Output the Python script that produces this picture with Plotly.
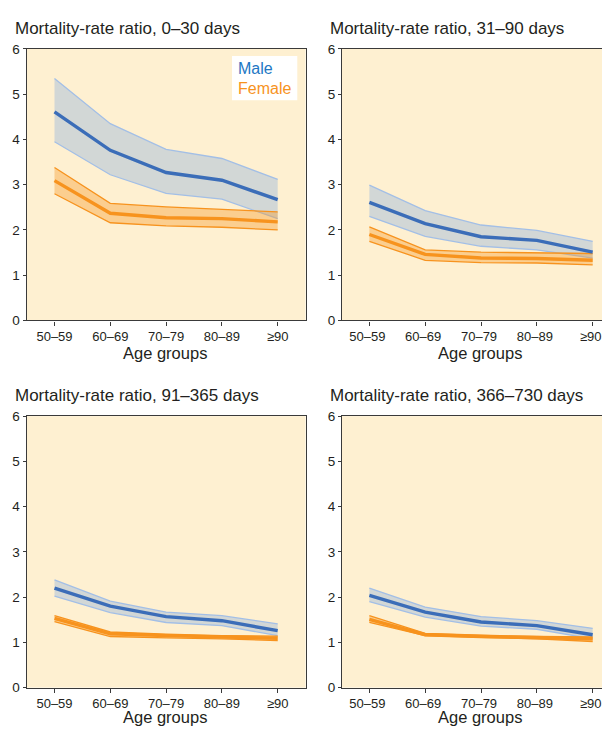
import plotly.graph_objects as go

# ---------------- data ----------------
age_groups = ["50–59", "60–69", "70–79", "80–89", "≥90"]
panel_titles = [
    "Mortality-rate ratio, 0–30 days",
    "Mortality-rate ratio, 31–90 days",
    "Mortality-rate ratio, 91–365 days",
    "Mortality-rate ratio, 366–730 days",
]
y_ticks = [0, 1, 2, 3, 4, 5, 6]

male_mid = [
    [4.61, 3.76, 3.27, 3.10, 2.67],
    [2.61, 2.14, 1.85, 1.77, 1.51],
    [2.20, 1.80, 1.57, 1.48, 1.26],
    [2.04, 1.67, 1.45, 1.37, 1.17],
]
male_hi = [
    [5.35, 4.35, 3.78, 3.58, 3.12],
    [2.99, 2.43, 2.11, 1.99, 1.75],
    [2.38, 1.91, 1.67, 1.59, 1.41],
    [2.20, 1.78, 1.57, 1.48, 1.31],
]
male_lo = [
    [3.95, 3.22, 2.81, 2.68, 2.25],
    [2.30, 1.86, 1.64, 1.56, 1.38],
    [2.02, 1.66, 1.44, 1.37, 1.15],
    [1.90, 1.56, 1.36, 1.29, 1.08],
]
female_mid = [
    [3.09, 2.37, 2.27, 2.25, 2.18],
    [1.90, 1.46, 1.38, 1.37, 1.33],
    [1.53, 1.19, 1.15, 1.12, 1.09],
    [1.51, 1.17, 1.13, 1.10, 1.08],
]
female_hi = [
    [3.38, 2.59, 2.51, 2.46, 2.40],
    [2.07, 1.56, 1.51, 1.49, 1.48],
    [1.59, 1.23, 1.18, 1.15, 1.14],
    [1.59, 1.20, 1.16, 1.13, 1.12],
]
female_lo = [
    [2.80, 2.16, 2.09, 2.06, 2.00],
    [1.75, 1.33, 1.28, 1.27, 1.23],
    [1.46, 1.13, 1.10, 1.08, 1.04],
    [1.44, 1.15, 1.11, 1.08, 1.02],
]
legend_labels = ["Male", "Female"]

# ---------------- style ----------------
# The page body keeps its default 8 px margin on every side; the figure is
# sized so that figure + margins fill the 610x734 window without overflow.
OFF = 8.0
W, H = 594, 718
FONT = "Liberation Sans, Arial, Helvetica, sans-serif"
TXT = "#231F20"
BG = "#FEF0D1"
MALE_LINE = "#3B6DB8"
MALE_EDGE = "#A3BFE6"
MALE_FILL = "#D2D7D6"
FEM_LINE = "#F7931E"
FEM_FILL = "rgba(247,148,29,0.37)"
LEG_MALE = "#2277C4"


def px(v):
    """page x (px) -> paper fraction"""
    return (v - OFF) / W


def py(v):
    """page y (px, from top) -> paper fraction"""
    return (H - (v - OFF)) / H


x_doms = [(26.6, 305.6), (342.0, 602.0)]
y_doms = [(42.7, 320.0), (417.7, 695.0)]
x_ranges = [[-0.5, 4.5], [-0.49, 4.167]]

fig = go.Figure()
layout = dict(
    width=W, height=H,
    margin=dict(l=0, r=0, t=0, b=0),
    paper_bgcolor="white",
    plot_bgcolor=BG,
    showlegend=False,
    font=dict(family=FONT, color=TXT, size=13),
)

annotations = []
for i in range(4):
    col = i % 2
    row = i // 2
    xa = "x" if i == 0 else f"x{i+1}"
    ya = "y" if i == 0 else f"y{i+1}"
    xkey = "xaxis" if i == 0 else f"xaxis{i+1}"
    ykey = "yaxis" if i == 0 else f"yaxis{i+1}"

    # male band
    fig.add_trace(go.Scatter(x=age_groups, y=male_hi[i], mode="lines",
                             line=dict(color=MALE_EDGE, width=1.3),
                             xaxis=xa, yaxis=ya, hoverinfo="skip"))
    fig.add_trace(go.Scatter(x=age_groups, y=male_lo[i], mode="lines",
                             line=dict(color=MALE_EDGE, width=1.3),
                             fill="tonexty", fillcolor=MALE_FILL,
                             xaxis=xa, yaxis=ya, hoverinfo="skip"))
    # female band
    fig.add_trace(go.Scatter(x=age_groups, y=female_hi[i], mode="lines",
                             line=dict(color=FEM_LINE, width=1.3),
                             xaxis=xa, yaxis=ya, hoverinfo="skip"))
    fig.add_trace(go.Scatter(x=age_groups, y=female_lo[i], mode="lines",
                             line=dict(color=FEM_LINE, width=1.3),
                             fill="tonexty", fillcolor=FEM_FILL,
                             xaxis=xa, yaxis=ya, hoverinfo="skip"))
    # central lines
    fig.add_trace(go.Scatter(x=age_groups, y=male_mid[i], mode="lines",
                             line=dict(color=MALE_LINE, width=3.4),
                             xaxis=xa, yaxis=ya, name=legend_labels[0]))
    fig.add_trace(go.Scatter(x=age_groups, y=female_mid[i], mode="lines",
                             line=dict(color=FEM_LINE, width=3.4),
                             xaxis=xa, yaxis=ya, name=legend_labels[1]))

    xd = x_doms[col]
    yd = y_doms[row]
    layout[xkey] = dict(
        domain=[max(0.0, px(xd[0])), min(1.0, px(xd[1]))],
        anchor=ya,
        type="category",
        categoryorder="array", categoryarray=age_groups,
        range=x_ranges[col],
        showline=True, linecolor="#3A3A3A", linewidth=1.2, mirror=True,
        ticks="outside", ticklen=4, tickwidth=1, tickcolor="#3A3A3A",
        showgrid=False, zeroline=False,
        tickfont=dict(size=13, color=TXT, family=FONT),
        ticklabelshift=(-2 if col == 1 else 0),
        fixedrange=True,
    )
    layout[ykey] = dict(
        domain=[py(yd[1]), py(yd[0])],
        anchor=xa,
        range=[0, 6],
        tickvals=y_ticks,
        showline=True, linecolor="#3A3A3A", linewidth=1.2,
        mirror=(col == 0),
        ticks="outside", ticklen=3, tickwidth=1, tickcolor="#3A3A3A",
        showgrid=False, zeroline=False,
        tickfont=dict(size=13.5, color=TXT, family=FONT),
        fixedrange=True,
    )

    # panel title
    title_x = 12.7 if col == 0 else 328.3
    title_y = 22.0 if row == 0 else 397.0
    annotations.append(dict(
        text=panel_titles[i], xref="paper", yref="paper",
        x=px(title_x), y=py(title_y), xanchor="left", yanchor="middle",
        showarrow=False, font=dict(size=17, color=TXT, family=FONT)))
    # axis title (bottom row is cropped by the window edge, as in the source)
    at_x = 164.5 if col == 0 else 479.5
    at_y = 353.5 if row == 0 else 725.0
    annotations.append(dict(
        text="Age groups", xref="paper", yref="paper",
        x=px(at_x), y=py(at_y), xanchor="center", yanchor="middle",
        showarrow=False, font=dict(size=16.5, color=TXT, family=FONT)))

# legend box
layout["shapes"] = [dict(type="rect", xref="paper", yref="paper",
                         x0=px(232), x1=px(297.3), y0=py(95), y1=py(50),
                         fillcolor="white", line=dict(width=0), layer="above")]
annotations.append(dict(text=legend_labels[0], xref="paper", yref="paper",
                        x=px(235.5), y=py(63), xanchor="left", yanchor="middle",
                        showarrow=False,
                        font=dict(size=16, color=LEG_MALE, family=FONT)))
annotations.append(dict(text=legend_labels[1], xref="paper", yref="paper",
                        x=px(235.5), y=py(83.5), xanchor="left", yanchor="middle",
                        showarrow=False,
                        font=dict(size=16, color=FEM_LINE, family=FONT)))
layout["annotations"] = annotations

fig.update_layout(**layout)
fig.write_html("out.html", config={"displayModeBar": False})
